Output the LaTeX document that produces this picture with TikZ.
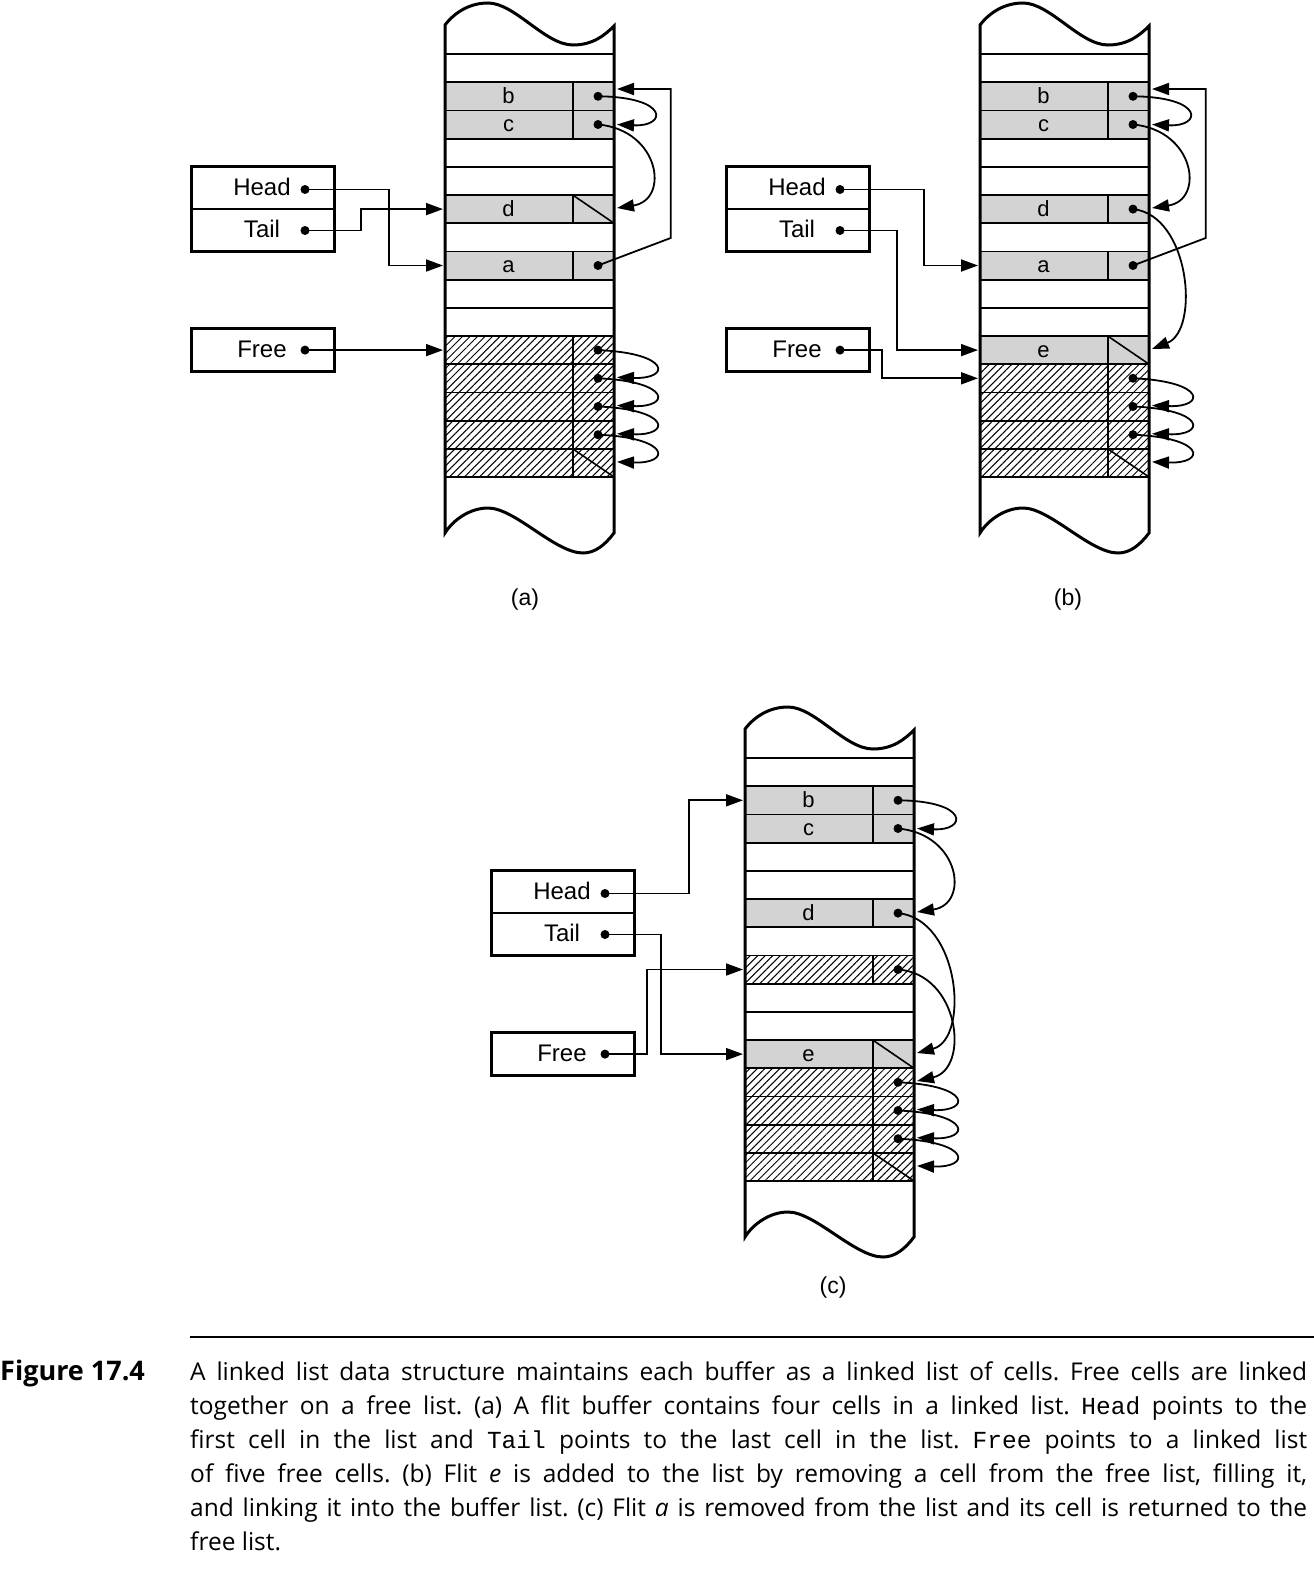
\documentclass[tikz,border=0pt]{standalone}
\usepackage{fontspec}
\setmainfont{Liberation Sans}
\setmonofont{Liberation Mono}
\newfontfamily\capfont{Open Sans}
\usetikzlibrary{arrows.meta,patterns.meta}
\definecolor{cellgray}{RGB}{211,211,211}
\tikzset{
  colline/.style={line width=3pt, line join=miter},
  rowline/.style={line width=1.8pt},
  midline/.style={line width=2.2pt},
  conn/.style={line width=1.8pt, -{Triangle[length=17pt,width=12pt]}},
  nullline/.style={line width=1.6pt},
  ptdot/.style={circle, fill=black, inner sep=0pt, minimum size=9pt},
  grayfill/.style={fill=cellgray},
  hatchfill/.style={pattern={Lines[angle=45,distance=5.3pt,line width=1pt]}},
  regbox/.style={draw, line width=3pt, minimum width=142.3pt, inner sep=0pt},
  boxlabel/.style={font=\fontsize{24}{28}\selectfont, anchor=base, inner sep=0pt},
  celllabel/.style={font=\fontsize{22}{26}\selectfont, anchor=base, inner sep=0pt},
  panellabel/.style={font=\fontsize{23}{27}\selectfont, inner sep=0pt},
  capline/.style={font=\capfont\fontsize{24.5}{28}\selectfont\frenchspacing, anchor=base west, inner sep=0pt},
}
\newcommand{\CommonCol}{%
  \foreach \k in {1,...,16} \draw[rowline] (0,{54+28.2*(\k-1)}) -- (169,{54+28.2*(\k-1)});
  \draw[rowline] (127.7,82.2) -- (127.7,138.6);
  \draw[rowline] (127.7,195) -- (127.7,223.2);
  \draw[rowline] (127.7,251.4) -- (127.7,279.6);
  \draw[rowline] (127.7,336) -- (127.7,477);
  \draw[colline] (0,25) .. controls (10,12) and (25,3) .. (43,3)
    .. controls (70,3) and (100,45) .. (128,45)
    .. controls (148,45) and (160,35) .. (169,26)
    -- (169,533)
    .. controls (160,545) and (150,553) .. (138,553)
    .. controls (110,553) and (70,508) .. (43,508)
    .. controls (25,508) and (8,520) .. (0,533) -- cycle;
}
\newcommand{\Regs}[1]{%
  \node[regbox, minimum height=84.6pt] (#1-HTbox) at (-182.15,209) {};
  \draw[midline] (-253.3,209) -- (-111,209);
  \node[regbox, minimum height=43.5pt] (#1-Fbox) at (-182.15,349.75) {};
  \node[boxlabel] (#1-HL) at (-183,195.5) {Head};
  \node[boxlabel] (#1-TL) at (-183,237.6) {Tail};
  \node[boxlabel] (#1-FL) at (-183,357.3) {Free};
  \node[ptdot] (#1-Hd) at (-140,189.5) {};
  \node[ptdot] (#1-Td) at (-140,230.5) {};
  \node[ptdot] (#1-Fd) at (-140,350.1) {};
}
\newcommand{\Loop}[5]{%
  \coordinate (#1-out#3) at (172,{#5-1});
  \draw[conn] (#1-r#2.center) .. controls (226,{#4+3}) and (226,{#5+1}) .. (#1-out#3);
}
\newcommand{\BtoC}[1]{%
  \coordinate (#1-out3) at (172,124.5);
  \draw[conn] (#1-r2.center) .. controls (225,97) and (222,127) .. (#1-out3);
  \coordinate (#1-out6) at (172,208);
  \draw[conn] (#1-r3.center) .. controls (215,130) and (225,200) .. (#1-out6);
}
\begin{document}
\begin{tikzpicture}[x=1pt,y=-1pt]
\useasboundingbox (0,0) rectangle (1314,1571);

% ---------------- panel (a)
\begin{scope}[shift={(445,0)}]
  \foreach \k in {2,3,6,8} \path[grayfill] (0,{54+28.2*(\k-1)}) rectangle (169,{54+28.2*\k});
  \foreach \k in {11,...,15} \path[hatchfill] (0,{54+28.2*(\k-1)}) rectangle (169,{54+28.2*\k});
  \CommonCol
  \draw[nullline] (127.7,195) -- (169,223.2);
  \draw[nullline] (127.7,448.8) -- (169,477);
  \node[celllabel] (a-lb) at (63.5,103.3) {b};
  \node[celllabel] (a-lc) at (63.5,131.5) {c};
  \node[celllabel] (a-ld) at (63.5,216.1) {d};
  \node[celllabel] (a-la) at (63.5,272.5) {a};
  \Regs{a}
  \node[ptdot] (a-r2) at (153,96.3) {};
  \node[ptdot] (a-r3) at (153,124.5) {};
  \node[ptdot] (a-r8) at (153,265.5) {};
  \node[ptdot] (a-r11) at (153,350.1) {};
  \node[ptdot] (a-r12) at (153,378.3) {};
  \node[ptdot] (a-r13) at (153,406.5) {};
  \node[ptdot] (a-r14) at (153,434.7) {};
  \coordinate (a-in8) at (-2,265.5);
  \coordinate (a-in6) at (-2,209.1);
  \coordinate (a-in11) at (-2,350.1);
  \coordinate (a-hk) at (-56,265.5);
  \coordinate (a-tk) at (-84,209.1);
  \draw[conn] (a-Hd.center) -| (a-hk) -- (a-in8);
  \draw[conn] (a-Td.center) -| (a-tk) -- (a-in6);
  \draw[conn] (a-Fd.center) -- (a-in11);
  \BtoC{a}
  \coordinate (a-k1) at (225.7,238);
  \coordinate (a-k2) at (225.7,89);
  \coordinate (a-out2) at (172,89);
  \draw[conn] (a-r8.center) -- (a-k1) -- (a-k2) -- (a-out2);
  \Loop{a}{11}{12}{350.1}{378.3}
  \Loop{a}{12}{13}{378.3}{406.5}
  \Loop{a}{13}{14}{406.5}{434.7}
  \Loop{a}{14}{15}{434.7}{462.9}
\end{scope}

% ---------------- panel (b)
\begin{scope}[shift={(980,0)}]
  \foreach \k in {2,3,6,8,11} \path[grayfill] (0,{54+28.2*(\k-1)}) rectangle (169,{54+28.2*\k});
  \foreach \k in {12,...,15} \path[hatchfill] (0,{54+28.2*(\k-1)}) rectangle (169,{54+28.2*\k});
  \CommonCol
  \draw[nullline] (127.7,336) -- (169,364.2);
  \draw[nullline] (127.7,448.8) -- (169,477);
  \node[celllabel] (b-lb) at (63.5,103.3) {b};
  \node[celllabel] (b-lc) at (63.5,131.5) {c};
  \node[celllabel] (b-ld) at (63.5,216.1) {d};
  \node[celllabel] (b-la) at (63.5,272.5) {a};
  \node[celllabel] (b-le) at (63.5,357.1) {e};
  \Regs{b}
  \node[ptdot] (b-r2) at (153,96.3) {};
  \node[ptdot] (b-r3) at (153,124.5) {};
  \node[ptdot] (b-r6) at (153,209.1) {};
  \node[ptdot] (b-r8) at (153,265.5) {};
  \node[ptdot] (b-r12) at (153,378.3) {};
  \node[ptdot] (b-r13) at (153,406.5) {};
  \node[ptdot] (b-r14) at (153,434.7) {};
  \coordinate (b-in8) at (-2,265.5);
  \coordinate (b-in11) at (-2,350.1);
  \coordinate (b-in12) at (-2,378.3);
  \coordinate (b-hk) at (-56,265.5);
  \coordinate (b-tk) at (-83,350.1);
  \coordinate (b-fk) at (-98,378.3);
  \draw[conn] (b-Hd.center) -| (b-hk) -- (b-in8);
  \draw[conn] (b-Td.center) -| (b-tk) -- (b-in11);
  \draw[conn] (b-Fd.center) -| (b-fk) -- (b-in12);
  \BtoC{b}
  \coordinate (b-out11) at (172,349);
  \draw[conn] (b-r6.center) .. controls (210,215) and (220,330) .. (b-out11);
  \coordinate (b-k1) at (225.7,238);
  \coordinate (b-k2) at (225.7,89);
  \coordinate (b-out2) at (172,89);
  \draw[conn] (b-r8.center) -- (b-k1) -- (b-k2) -- (b-out2);
  \Loop{b}{12}{13}{378.3}{406.5}
  \Loop{b}{13}{14}{406.5}{434.7}
  \Loop{b}{14}{15}{434.7}{462.9}
\end{scope}

% ---------------- panel (c)
\begin{scope}[shift={(745,704)}]
  \foreach \k in {2,3,6,11} \path[grayfill] (0,{54+28.2*(\k-1)}) rectangle (169,{54+28.2*\k});
  \foreach \k in {8,12,13,14,15} \path[hatchfill] (0,{54+28.2*(\k-1)}) rectangle (169,{54+28.2*\k});
  \CommonCol
  \draw[nullline] (127.7,336) -- (169,364.2);
  \draw[nullline] (127.7,448.8) -- (169,477);
  \node[celllabel] (c-lb) at (63.5,103.3) {b};
  \node[celllabel] (c-lc) at (63.5,131.5) {c};
  \node[celllabel] (c-ld) at (63.5,216.1) {d};
  \node[celllabel] (c-le) at (63.5,357.1) {e};
  \Regs{c}
  \node[ptdot] (c-r2) at (153,96.3) {};
  \node[ptdot] (c-r3) at (153,124.5) {};
  \node[ptdot] (c-r6) at (153,209.1) {};
  \node[ptdot] (c-r8) at (153,265.5) {};
  \node[ptdot] (c-r12) at (153,378.3) {};
  \node[ptdot] (c-r13) at (153,406.5) {};
  \node[ptdot] (c-r14) at (153,434.7) {};
  \coordinate (c-in2) at (-2,96.3);
  \coordinate (c-in11) at (-2,350.1);
  \coordinate (c-in8) at (-2,265.5);
  \coordinate (c-hk) at (-56,96.3);
  \coordinate (c-tk) at (-84,350.1);
  \coordinate (c-fk) at (-98,265.5);
  \draw[conn] (c-Hd.center) -| (c-hk) -- (c-in2);
  \draw[conn] (c-Td.center) -| (c-tk) -- (c-in11);
  \draw[conn] (c-Fd.center) -| (c-fk) -- (c-in8);
  \BtoC{c}
  \coordinate (c-out11) at (172,349);
  \draw[conn] (c-r6.center) .. controls (215,215) and (225,335) .. (c-out11);
  \coordinate (c-out12) at (172,377);
  \draw[conn] (c-r8.center) .. controls (215,270) and (225,365) .. (c-out12);
  \Loop{c}{12}{13}{378.3}{406.5}
  \Loop{c}{13}{14}{406.5}{434.7}
  \Loop{c}{14}{15}{434.7}{462.9}
\end{scope}

% ---------------- panel labels
\node[panellabel] (lab-a) at (525,600) {(a)};
\node[panellabel] (lab-b) at (1068,600) {(b)};
\node[panellabel] (lab-c) at (833,1288) {(c)};

% ---------------- caption
\draw[line width=2pt] (190,1337) -- (1314,1337);
\node[font=\capfont\bfseries\fontsize{27}{30}\selectfont, anchor=base west, inner sep=0pt] (figlab) at (0,1380) {Figure 17.4};
\node[capline] (cap1) at (190,1380) {\makebox[1117pt][s]{A linked list data structure maintains each buffer as a linked list of cells. Free cells are linked}};
\node[capline] (cap2) at (190,1414) {\makebox[1117pt][s]{together on a free list. (a) A flit buffer contains four cells in a linked list. \texttt{Head} points to the}};
\node[capline] (cap3) at (190,1448) {\makebox[1117pt][s]{first cell in the list and \texttt{Tail} points to the last cell in the list. \texttt{Free} points to a linked list}};
\node[capline] (cap4) at (190,1482) {\makebox[1117pt][s]{of five free cells. (b) Flit \textit{e} is added to the list by removing a cell from the free list, filling it,}};
\node[capline] (cap5) at (190,1516) {\makebox[1117pt][s]{and linking it into the buffer list. (c) Flit \textit{a} is removed from the list and its cell is returned to the}};
\node[capline] (cap6) at (190,1550) {free list.};
\end{tikzpicture}
\end{document}
